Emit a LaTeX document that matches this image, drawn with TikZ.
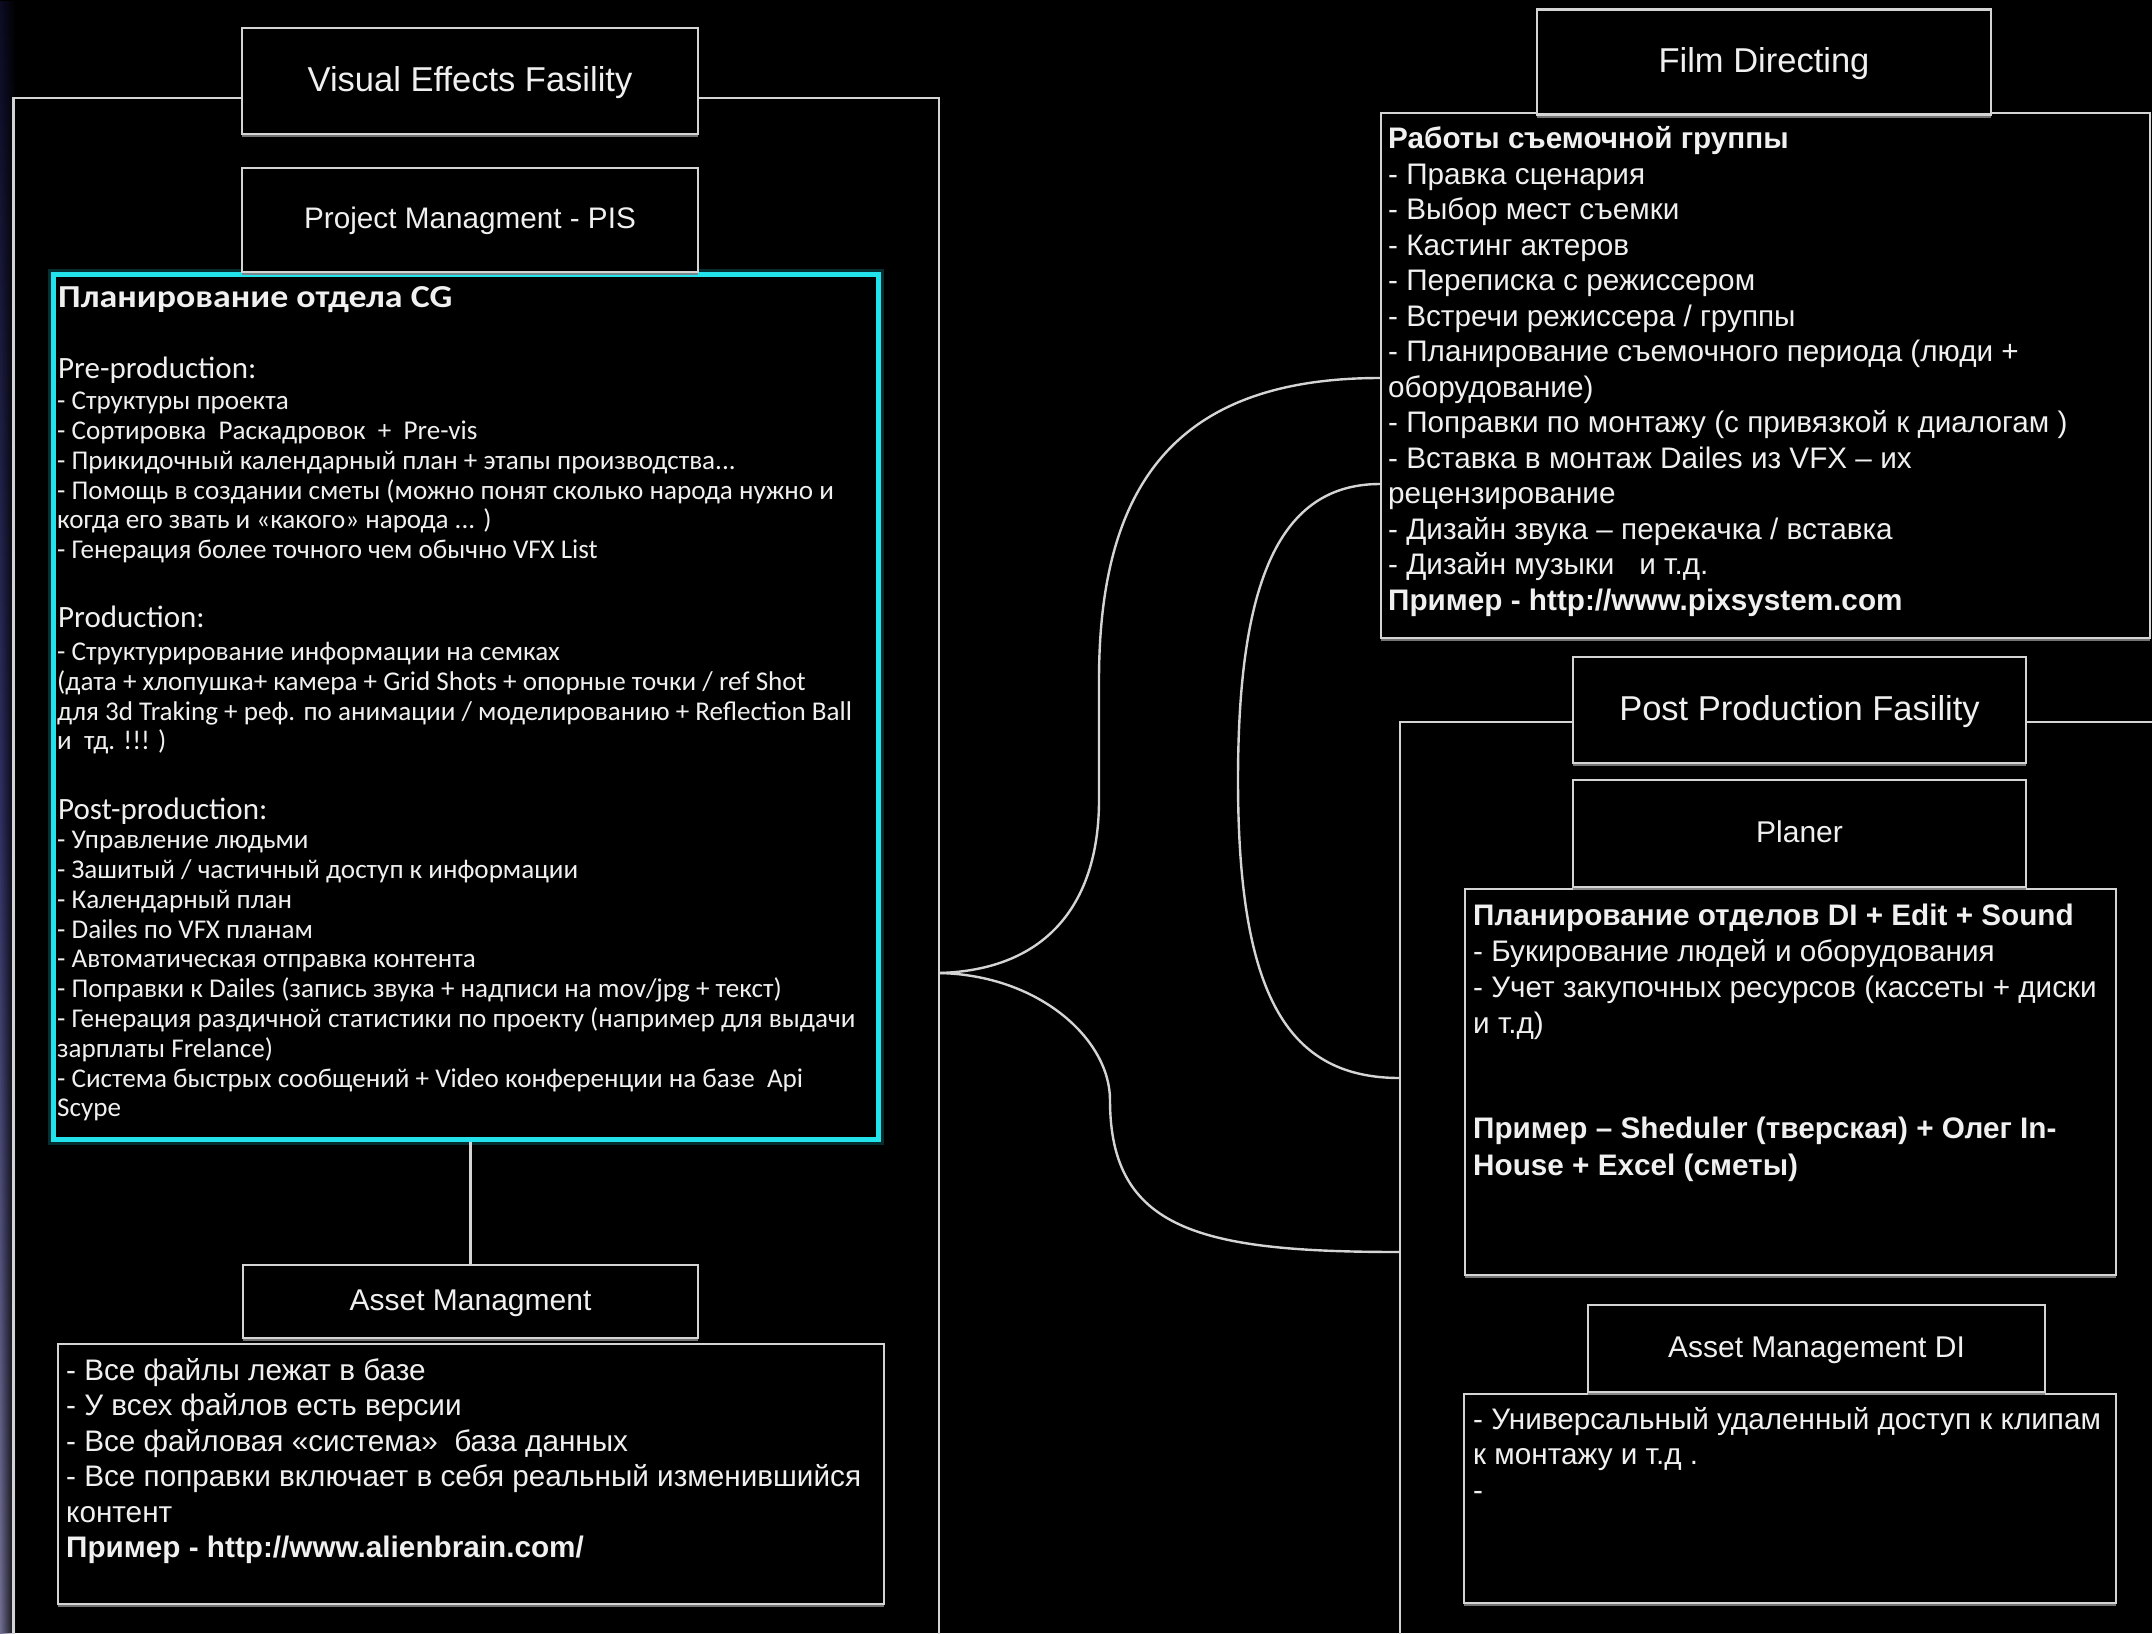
\documentclass[tikz,border=0pt]{standalone}
\usepackage{fontspec}
\setmainfont{Liberation Sans}
\newfontfamily\cgfont{Carlito}
\newfontfamily\cgtitlefont[FakeStretch=1.12]{Carlito}
\usetikzlibrary{shadows,fadings,calc}

\tikzfading[name=edgefade, left color=transparent!0, middle color=transparent!25, right color=transparent!100]

\definecolor{wire}{HTML}{D4D4D4}
\definecolor{ink}{HTML}{F0F0F0}
\definecolor{cgcyan}{HTML}{22E2EC}
\definecolor{edgetop}{HTML}{0C0C24}
\definecolor{edgemid}{HTML}{303064}
\definecolor{edgebot}{HTML}{706E90}

\begin{document}
\begin{tikzpicture}[x=1pt,y=-1pt,
  link/.style={draw=wire, line width=2.4pt},
  boxshadow/.style={drop shadow={shadow xshift=0pt, shadow yshift=-3pt, fill=gray, opacity=.9}},
  headbox/.style={link, fill=black, boxshadow, inner sep=0pt, text=ink},
  bigtitle/.style={headbox, font=\fontsize{34.5}{40}\selectfont, text height=24.7pt, text depth=4pt},
  subtitle/.style={headbox, font=\fontsize{30}{36}\selectfont, text height=21.6pt, text depth=4pt},
  bodybox/.style={link, fill=black, boxshadow, anchor=north west, inner sep=0pt},
  bodytext/.style={anchor=north west, inner sep=0pt, align=left, text=ink, font=\fontsize{29.7}{35.5}\selectfont},
  cgtext/.style={anchor=north west, inner sep=0pt, align=left, text=ink, font=\cgfont\fontsize{27.1}{29.8}\selectfont},
  cghead/.style={anchor=north west, inner sep=0pt, text=ink, font=\cgfont\fontsize{31}{36}\selectfont},
]
\useasboundingbox (0,0) rectangle (2152,1633);
\fill[black] (0,0) rectangle (2152,1633);
% bluish vignette along the left edge
\shade[top color=edgetop, bottom color=edgebot, middle color=edgemid, path fading=edgefade] (0,0) rectangle (16,1633);

% facility frames
\draw[link] (13.5,1650) |- (939,98) -- (939,1650);
\draw[link] (1400,1650) |- (2170,722);

% junction and attachment points
\coordinate (J) at (939,973);
\coordinate (ppA) at (1400,1078);
\coordinate (ppB) at (1400,1252);

% ---------- Visual Effects Fasility ----------
\node[draw=cgcyan, line width=5pt, fill=black, anchor=north west, inner sep=0pt,
      minimum width=825pt, minimum height=865pt,
      preaction={draw=cgcyan, line width=11pt, opacity=.2}] (cgbody) at (51,272) {};
\node[bigtitle, minimum width=456pt, minimum height=106pt] (vfxhead) at (470,81) {Visual Effects Fasility};
\node[subtitle, font=\fontsize{29.7}{35}\selectfont, minimum width=456pt, minimum height=104pt] (pishead) at (470,220) {Project Managment - PIS};

\node[anchor=north west, inner sep=0pt, text=ink, font=\cgtitlefont\bfseries\fontsize{32}{36}\selectfont] (cgtitle) at (58,286) {Планирование отдела CG};
\node[cghead] (prehead) at (58,357) {Pre-production:};
\node[cgtext] (prelist) at (57,392) {- Структуры проекта\\
- Сортировка\ \ Раскадровок\ \ +\ \ Pre-vis\\
- Прикидочный календарный план + этапы производства...\\
- Помощь в создании сметы (можно понят сколько народа нужно и\\
когда его звать и «какого» народа ... )\\
- Генерация более точного чем обычно VFX List};
\node[cghead] (prodhead) at (58,606) {Production:};
\node[cgtext] (prodlist) at (57,642) {- Структурирование информации на семках\\
(дата + хлопушка+ камера + Grid Shots + опорные точки / ref Shot\\
для 3d Traking + реф. по анимации / моделированию + Reflection Ball\\
и\ \ тд. !!! )};
\node[cghead] (posthead2) at (58,798) {Post-production:};
\node[cgtext] (postlist) at (57,831) {- Управление людьми\\
- Зашитый / частичный доступ к информации\\
- Календарный план\\
- Dailes по VFX планам\\
- Автоматическая отправка контента\\
- Поправки к Dailes (запись звука + надписи на mov/jpg + текст)\\
- Генерация раздичной статистики по проекту (например для выдачи\\
зарплаты Frelance)\\
- Система быстрых сообщений + Video конференции на базе\ \ Api\\
Scype};

\node[bodybox, minimum width=826pt, minimum height=260pt] (ambody) at (57,1343) {};
\node[subtitle, minimum width=455pt, minimum height=73pt] (amhead) at (470.5,1301.5) {Asset Managment};
\node[bodytext] (amtext) at (66,1358) {- Все файлы лежат в базе\\
- У всех файлов есть версии\\
- Все файловая «система»\ \ база данных\\
- Все поправки включает в себя реальный изменившийся\\
контент\\
\bfseries Пример - http://www.alienbrain.com/};
\draw[link] (amhead.north) -- (amhead.north |- cgbody.south);

% ---------- Film Directing ----------
\node[bodybox, minimum width=769pt, minimum height=525pt] (filmbody) at (1380,112) {};
\node[bigtitle, minimum width=454pt, minimum height=105pt] (filmhead) at (1764,62) {Film Directing};
\node[bodytext] (filmtext) at (1388,126.5) {\bfseries Работы съемочной группы\\
- Правка сценария\\
- Выбор мест съемки\\
- Кастинг актеров\\
- Переписка с режиссером\\
- Встречи режиссера / группы\\
- Планирование съемочного периода (люди +\\
оборудование)\\
- Поправки по монтажу (с привязкой к диалогам )\\
- Вставка в монтаж Dailes из VFX – их\\
рецензирование\\
- Дизайн звука – перекачка / вставка\\
- Дизайн музыки\ \ \ и т.д.\\
\bfseries Пример - http://www.pixsystem.com};
\coordinate (fdA) at ($(filmbody.north west)+(0,266)$);
\coordinate (fdB) at ($(filmbody.north west)+(0,372)$);

% ---------- Post Production Fasility ----------
\node[bodybox, minimum width=651pt, minimum height=386pt] (planbody) at (1464,888) {};
\node[bigtitle, minimum width=453pt, minimum height=106pt] (pphead) at (1799.5,710) {Post Production Fasility};
\node[subtitle, minimum width=453pt, minimum height=107pt] (planhead) at (1799.5,833.5) {Planer};
\node[bodytext, font=\fontsize{29.7}{35.8}\selectfont] (plantext) at (1473,904) {\bfseries Планирование отделов DI + Edit + Sound\\
- Букирование людей и оборудования\\
- Учет закупочных ресурсов (кассеты + диски\\
и т.д)};
\node[bodytext, font=\bfseries\fontsize{29.7}{36.5}\selectfont] (planex) at (1473,1117) {Пример – Sheduler (тверская) + Олег In-\\
House + Excel (сметы)};

\node[bodybox, minimum width=652pt, minimum height=209pt] (amdibody) at (1463,1393) {};
\node[subtitle, minimum width=457pt, minimum height=87pt] (amdihead) at (1816.5,1348.5) {Asset Management DI};
\node[bodytext] (amditext) at (1473,1407) {- Универсальный удаленный доступ к клипам\\
к монтажу и т.д .\\
-};

% ---------- connectors between the facilities ----------
\draw[link] (J) .. controls (1050,970) and (1099,900) .. (1099,800) -- (1099,680)
  .. controls (1099,480) and (1180,378) .. (fdA);
\draw[link] (J) .. controls (1040,975) and (1110,1040) .. (1110,1100)
  .. controls (1110,1230) and (1200,1252) .. (ppB);
\draw[link] (fdB) .. controls (1280,484) and (1238,580) .. (1238,780)
  .. controls (1238,1000) and (1290,1078) .. (ppA);
\end{tikzpicture}
\end{document}
